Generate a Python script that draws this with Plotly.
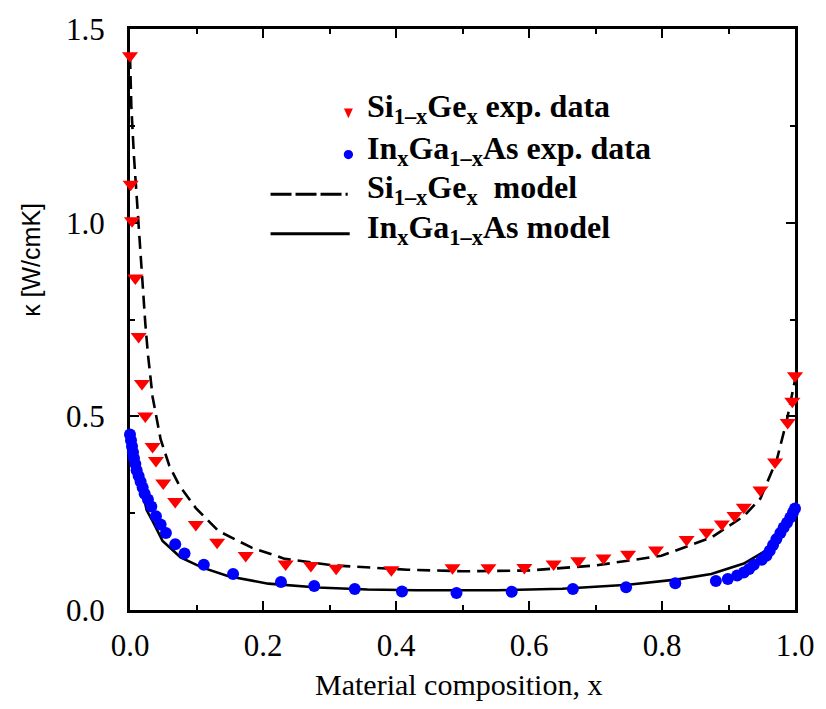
import plotly.graph_objects as go

# Si(1-x)Ge(x) measured thermal conductivity
sige_x = [0.000, 0.001, 0.003, 0.008, 0.013, 0.018, 0.023, 0.034, 0.039, 0.050,
          0.068, 0.099, 0.131, 0.174, 0.234, 0.272, 0.310, 0.393, 0.485, 0.539,
          0.593, 0.637, 0.674, 0.712, 0.749, 0.791, 0.837, 0.867, 0.890, 0.909,
          0.923, 0.948, 0.970, 0.989, 0.996, 1.000]
sige_k = [1.431, 1.099, 1.005, 0.857, 0.706, 0.585, 0.501, 0.422, 0.386, 0.328,
          0.280, 0.221, 0.175, 0.141, 0.119, 0.115, 0.108, 0.104, 0.109, 0.109,
          0.110, 0.119, 0.127, 0.134, 0.144, 0.155, 0.182, 0.201, 0.222, 0.244,
          0.265, 0.310, 0.382, 0.484, 0.539, 0.605]

# In(x)Ga(1-x)As measured thermal conductivity
ingaas_x = [0.000, 0.0015, 0.003, 0.0045, 0.006, 0.008, 0.010, 0.013, 0.016, 0.019,
            0.022, 0.027, 0.032, 0.039, 0.046, 0.054, 0.068, 0.082, 0.111, 0.155,
            0.227, 0.277, 0.338, 0.409, 0.491, 0.574, 0.666, 0.746, 0.820, 0.881,
            0.899, 0.913, 0.923, 0.931, 0.938, 0.950, 0.957, 0.962, 0.967, 0.972,
            0.978, 0.983, 0.988, 0.993, 0.997, 1.000]
ingaas_k = [0.453, 0.438, 0.423, 0.407, 0.392, 0.377, 0.361, 0.346, 0.331, 0.316,
            0.300, 0.285, 0.267, 0.242, 0.221, 0.199, 0.170, 0.146, 0.117, 0.093,
            0.072, 0.062, 0.054, 0.048, 0.044, 0.047, 0.054, 0.059, 0.069, 0.075,
            0.080, 0.089, 0.097, 0.106, 0.117, 0.130, 0.140, 0.153, 0.168, 0.183,
            0.199, 0.213, 0.225, 0.239, 0.252, 0.262]

# Model curves
sige_model_x = [0.000, 0.002, 0.006, 0.011, 0.017, 0.023, 0.027, 0.034, 0.046, 0.059,
                0.074, 0.099, 0.133, 0.183, 0.233, 0.307, 0.417, 0.501, 0.600, 0.700,
                0.799, 0.874, 0.923, 0.948, 0.973, 0.988, 1.000]
sige_model_k = [1.430, 1.300, 1.170, 1.040, 0.890, 0.740, 0.660, 0.550, 0.441, 0.373,
                0.322, 0.263, 0.204, 0.161, 0.132, 0.115, 0.104, 0.100, 0.102, 0.115,
                0.140, 0.187, 0.242, 0.288, 0.390, 0.492, 0.594]

ingaas_model_x = [0.000, 0.025, 0.035, 0.049, 0.076, 0.108, 0.148, 0.208, 0.282, 0.357,
                  0.431, 0.500, 0.551, 0.650, 0.749, 0.824, 0.874, 0.923, 0.953, 0.978,
                  1.000]
ingaas_model_k = [0.455, 0.258, 0.226, 0.178, 0.136, 0.110, 0.087, 0.068, 0.058, 0.053,
                  0.051, 0.050, 0.051, 0.055, 0.065, 0.079, 0.093, 0.120, 0.150, 0.188,
                  0.260]

x_ticks = [0.0, 0.2, 0.4, 0.6, 0.8, 1.0]
y_ticks = [0.0, 0.5, 1.0, 1.5]

legend_labels = [
    "<b>Si<sub>1–x</sub>Ge<sub>x</sub> exp. data</b>",
    "<b>In<sub>x</sub>Ga<sub>1–x</sub>As exp. data</b>",
    "<b>Si<sub>1–x</sub>Ge<sub>x</sub>  model</b>",
    "<b>In<sub>x</sub>Ga<sub>1–x</sub>As model</b>",
]

W, H = 826, 709
ML, MR, MT, MB = 130, 24, 21, 99
PW, PH = W - ML - MR, H - MT - MB

RED = "#ff0000"
BLUE = "#0000ff"
SERIF = "Liberation Serif"


def px2paper(px, py):
    return (px - ML) / PW, (H - MB - py) / PH


fig = go.Figure()

fig.add_trace(go.Scatter(
    x=sige_model_x, y=sige_model_k, mode="lines",
    line=dict(color="black", width=2.6, dash="13px,7px"),
    showlegend=False, cliponaxis=False))
fig.add_trace(go.Scatter(
    x=ingaas_model_x, y=ingaas_model_k, mode="lines",
    line=dict(color="black", width=2.6),
    showlegend=False, cliponaxis=False))
fig.add_trace(go.Scatter(
    x=sige_x, y=sige_k, mode="markers",
    marker=dict(symbol="triangle-down", size=14, color=RED, line=dict(width=0)),
    showlegend=False, cliponaxis=False))
fig.add_trace(go.Scatter(
    x=ingaas_x, y=ingaas_k, mode="markers",
    marker=dict(symbol="circle", size=12, color=BLUE, line=dict(width=0)),
    showlegend=False, cliponaxis=False))

# Hand-laid legend: keys on the left, bold labels on the right
shapes = []
tx0, ty0 = px2paper(346.2, 101.5)
tx1, _ = px2paper(355.2, 101.5)
tmx, tby = px2paper(350.7, 111.5)
shapes.append(dict(type="path", xref="paper", yref="paper",
                   path=f"M{tx0},{ty0} L{tx1},{ty0} L{tmx},{tby} Z",
                   fillcolor=RED, line=dict(width=0)))
cx0, cy0 = px2paper(346.0, 143.6)
cx1, cy1 = px2paper(355.4, 153.0)
shapes.append(dict(type="circle", xref="paper", yref="paper",
                   x0=cx0, x1=cx1, y0=cy1, y1=cy0,
                   fillcolor=BLUE, line=dict(width=0)))
lx0, ly3 = px2paper(272, 188.5)
lx1, ly4 = px2paper(350, 228.5)
shapes.append(dict(type="line", xref="paper", yref="paper",
                   x0=lx0, x1=lx1, y0=ly3, y1=ly3,
                   line=dict(color="black", width=3, dash="21px,4px")))
shapes.append(dict(type="line", xref="paper", yref="paper",
                   x0=lx0, x1=lx1 + 2 / PW, y0=ly4, y1=ly4,
                   line=dict(color="black", width=3)))

annotations = []
for label, base_py in zip(legend_labels, [116, 158, 198, 238]):
    ax, ay = px2paper(367, base_py - 14)
    annotations.append(dict(
        text=label, xref="paper", yref="paper", x=ax, y=ay,
        xanchor="left", yanchor="middle", showarrow=False,
        font=dict(family=SERIF, size=32, color="black")))

# Axis titles
yt_x, yt_y = px2paper(30, 255)
annotations.append(dict(
    text="κ [W/cmK]", xref="paper", yref="paper", x=yt_x, y=yt_y,
    xanchor="center", yanchor="middle", textangle=-90, showarrow=False,
    font=dict(family="Liberation Sans", size=25, color="black")))
xt_x, xt_y = px2paper(462, 686)
annotations.append(dict(
    text="Material composition, x", xref="paper", yref="paper", x=xt_x, y=xt_y,
    xanchor="center", yanchor="middle", showarrow=False,
    font=dict(family=SERIF, size=30, color="black")))

axis_common = dict(
    showline=True, linecolor="black", linewidth=3.2, mirror="allticks",
    ticks="inside", ticklen=9, tickwidth=2.4, tickcolor="black",
    showgrid=False, zeroline=False, layer="below traces",
    tickfont=dict(family=SERIF, size=31, color="black"),
    tickformat=".1f",
)

fig.update_layout(
    width=W, height=H,
    margin=dict(l=ML, r=MR, t=MT, b=MB),
    plot_bgcolor="white", paper_bgcolor="white",
    showlegend=False,
    shapes=shapes, annotations=annotations,
    xaxis=dict(range=[0, 1], tickvals=x_ticks, ticklabelstandoff=6,
               minor=dict(dtick=0.1, tick0=0, ticks="inside", ticklen=5,
                          tickwidth=2.4, tickcolor="black", showgrid=False),
               **axis_common),
    yaxis=dict(range=[0, 1.5], tickvals=y_ticks, ticklabelstandoff=16,
               minor=dict(dtick=0.25, tick0=0, ticks="inside", ticklen=5,
                          tickwidth=2.4, tickcolor="black", showgrid=False),
               **axis_common),
)

fig.write_html("out.html")
